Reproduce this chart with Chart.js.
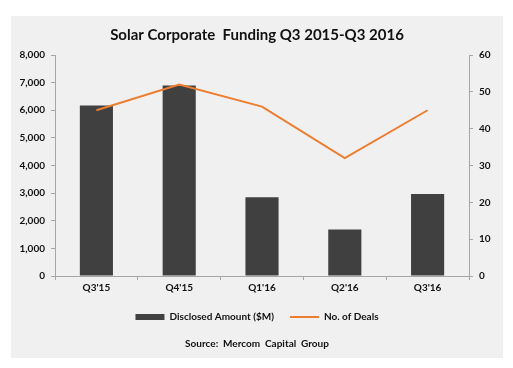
<!DOCTYPE html>
<html>
<head>
<meta charset="utf-8">
<script src="https://cdn.jsdelivr.net/npm/chart.js@4"></script>
<style>
  html, body { margin: 0; padding: 0; background: #fff; }
  #wrap { width: 513px; height: 368px; position: relative; }
</style>
</head>
<body>
<div id="wrap"><canvas id="chart" width="513" height="368"></canvas></div>
<script>
var quarters = ["Q3'15", "Q4'15", "Q1'16", "Q2'16", "Q3'16"];
var amounts = [6170, 6900, 2850, 1680, 2970];
var deals = [45, 52, 46, 32, 45];
var titleText = "Solar Corporate  Funding Q3 2015-Q3 2016";
var sourceText = "Source:  Mercom  Capital  Group";

var fontFam = "Lato, 'Open Sans', sans-serif";
var textCol = "#111";
var axisCol = "#a6a6a6";

// grey panel behind the chart
var panel = {
  id: 'panel',
  beforeDraw: function(c) {
    var ctx = c.ctx;
    ctx.save();
    ctx.fillStyle = "#f0f0f0";
    ctx.fillRect(11, 16, 492, 342);
    ctx.restore();
  }
};

Chart.defaults.font.family = fontFam;
Chart.defaults.color = textCol;

var chart = new Chart(document.getElementById("chart"), {
  data: {
    labels: quarters,
    datasets: [{
      type: 'line',
      label: 'No. of Deals',
      data: deals,
      yAxisID: 'y2',
      borderColor: '#ed7d31',
      backgroundColor: '#ed7d31',
      borderWidth: 2,
      pointRadius: 0,
      pointStyle: 'line',
      tension: 0,
      order: 1
    }, {
      type: 'bar',
      label: 'Disclosed Amount ($M)',
      data: amounts,
      yAxisID: 'y',
      backgroundColor: '#404040',
      pointStyle: 'rect',
      barPercentage: 0.4,
      categoryPercentage: 1,
      order: 2
    }]
  },
  options: {
    responsive: false,
    animation: false,
    layout: { padding: { left: 11, right: 10, top: 20, bottom: 18 } },
    plugins: {
      title: {
        display: true,
        text: titleText,
        font: { size: 15, weight: 'bold' },
        padding: { top: 6, bottom: 11 }
      },
      subtitle: {
        display: true,
        position: 'bottom',
        text: sourceText,
        font: { size: 10, weight: 'bold' },
        padding: { top: 6, bottom: 0 }
      },
      legend: {
        position: 'bottom',
        reverse: true,
        labels: {
          usePointStyle: true,
          pointStyleWidth: 29,
          boxHeight: 6,
          padding: 16,
          font: { size: 10, weight: 'bold' },
          color: textCol
        }
      },
      tooltip: { enabled: false }
    },
    scales: {
      x: {
        grid: { display: true, drawOnChartArea: false, offset: true, tickLength: 4, color: axisCol },
        border: { color: axisCol },
        ticks: { font: { size: 10, weight: 'bold' }, padding: 2 },
        afterFit: function(s) { s.height = 20; }
      },
      y: {
        position: 'left',
        min: 0,
        max: 8000,
        grid: { drawOnChartArea: false, tickLength: 4, color: axisCol },
        border: { color: axisCol },
        ticks: { stepSize: 1000, font: { size: 10, weight: 'bold' }, padding: 6 },
        afterFit: function(s) { s.width = 44; }
      },
      y2: {
        position: 'right',
        min: 0,
        max: 60,
        grid: { drawOnChartArea: false, tickLength: 4, color: axisCol },
        border: { color: axisCol },
        ticks: { stepSize: 10, font: { size: 10, weight: 'bold' }, padding: 6 },
        afterFit: function(s) { s.width = 34; }
      }
    }
  },
  plugins: [panel]
});
</script>
</body>
</html>
